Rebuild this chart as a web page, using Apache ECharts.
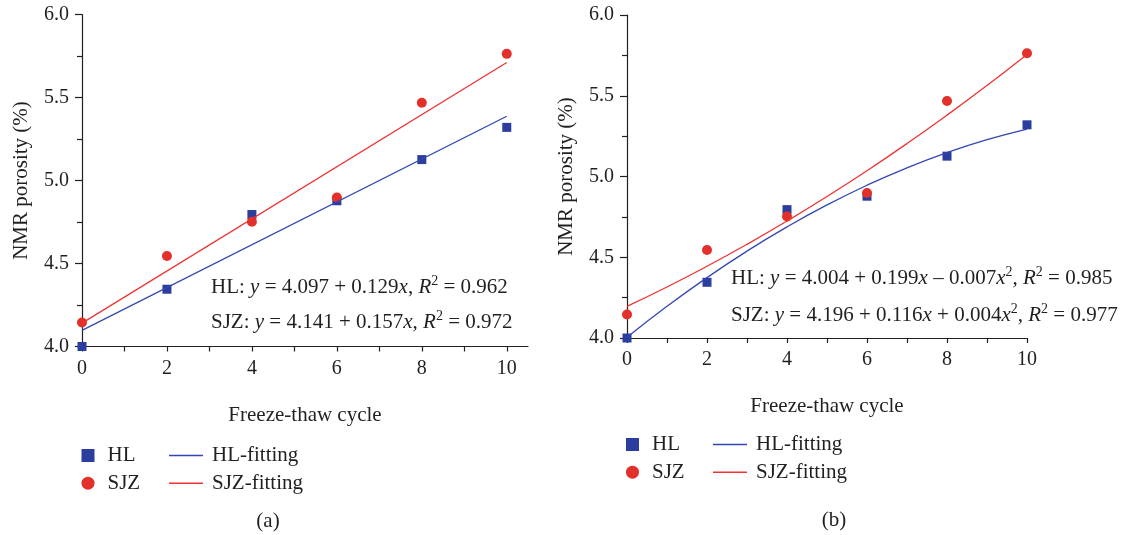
<!DOCTYPE html>
<html>
<head>
<meta charset="utf-8">
<script src="https://cdn.jsdelivr.net/npm/echarts@6/dist/echarts.min.js"></script>
<style>
html,body{margin:0;padding:0;background:#fff;}
#chart{width:1122px;height:535px;}
</style>
</head>
<body>
<div id="chart"></div>
<script>
// ---- data ----
const xCycles = [0, 2, 4, 6, 8, 10];
const hlPorosity = [4.000, 4.345, 4.795, 4.878, 5.126, 5.320];
const sjzPorosity = [4.145, 4.545, 4.752, 4.898, 5.468, 5.763];

// linear fitting lines (panel a), endpoints
const linFitX = [0, 10];
const hlLinFit = [4.097, 5.387];
const sjzLinFit = [4.141, 5.711];

// quadratic fitting curves (panel b)
const quadFitX = [0, 1, 2, 3, 4, 5, 6, 7, 8, 9, 10];
const hlQuadFit = [4.004, 4.196, 4.374, 4.538, 4.688, 4.824, 4.946, 5.054, 5.148, 5.228, 5.294];
const sjzQuadFit = [4.196, 4.316, 4.444, 4.580, 4.724, 4.876, 5.036, 5.204, 5.380, 5.564, 5.756];

const xTickValues = [0, 2, 4, 6, 8, 10];
const xAllTicks = [0, 1, 2, 3, 4, 5, 6, 7, 8, 9, 10];
const xAxisName = 'Freeze-thaw cycle';
const yAxisName = 'NMR porosity (%)';
const panelLabels = ['(a)', '(b)'];
// text pieces: {i|...} italic, {s|...} superscript
const eqA = [
  '{n|HL: }{i|y}{n| = 4.097 + 0.129}{i|x}{n|, }{i|R}{s|2}{n| = 0.962}',
  '{n|SJZ: }{i|y}{n| = 4.141 + 0.157}{i|x}{n|, }{i|R}{s|2}{n| = 0.972}'
];
const eqB = [
  '{n|HL: }{i|y}{n| = 4.004 + 0.199}{i|x}{n| \u2013 0.007}{i|x}{s|2}{n|, }{i|R}{s|2}{n| = 0.985}',
  '{n|SJZ: }{i|y}{n| = 4.196 + 0.116}{i|x}{n| + 0.004}{i|x}{s|2}{n|, }{i|R}{s|2}{n| = 0.977}'
];

// ---- styling ----
const FONT = 'Liberation Serif';
const TXT = '#231f20';
const BLUE = '#2b3e9e';
const RED = '#e3302a';
const BLUE_LINE = '#3346b3';
const RED_LINE = '#ee3333';

const pairs = (xs, ys) => xs.map((x, i) => [x, ys[i]]);

function makeX(idx, max) {
  return {
    type: 'value', gridIndex: idx, min: 0, max: max, interval: 2,
    name: xAxisName, nameLocation: 'middle', nameGap: 58,
    nameTextStyle: {fontFamily: FONT, fontSize: 21, color: TXT},
    axisLine: {show: true, onZero: false, lineStyle: {color: TXT, width: 1.2}},
    axisTick: {show: true, length: 5, customValues: xAllTicks, lineStyle: {color: TXT, width: 1.2}},
    axisLabel: {customValues: xTickValues, margin: 12, fontFamily: FONT, fontSize: 20, color: TXT},
    splitLine: {show: false}
  };
}
function makeY(idx) {
  return {
    type: 'value', gridIndex: idx, min: 4, max: 6, interval: 0.5,
    name: yAxisName, nameLocation: 'middle', nameRotate: 90, nameGap: 50,
    nameTextStyle: {fontFamily: FONT, fontSize: 21, color: TXT},
    axisLine: {show: true, lineStyle: {color: TXT, width: 1.2}},
    axisTick: {show: true, length: 7, lineStyle: {color: TXT, width: 1.2}},
    minorTick: {show: true, splitNumber: 2, length: 5, lineStyle: {color: TXT, width: 1.2}},
    axisLabel: {margin: 13, fontFamily: FONT, fontSize: 20, color: TXT,
      formatter: v => v.toFixed(1)},
    splitLine: {show: false}, minorSplitLine: {show: false}
  };
}
function scatter(name, idx, data, symbol, size, color) {
  return {name, type: 'scatter', xAxisIndex: idx, yAxisIndex: idx, data,
    symbol, symbolSize: size, itemStyle: {color, opacity: 1}, z: 3};
}
function fitLine(name, idx, data, color, smooth) {
  return {name, type: 'line', xAxisIndex: idx, yAxisIndex: idx, data,
    showSymbol: false, symbol: 'none', smooth: smooth, color: color,
    lineStyle: {color, width: 1.3}, itemStyle: {color}, z: 4};
}
function eqText(text, x, y) {
  return {
    type: 'text', x, y,
    style: {
      text, align: 'left', verticalAlign: 'middle',
      rich: {
        n: {fontFamily: FONT, fontSize: 21, lineHeight: 26, fill: TXT, color: TXT},
        i: {fontFamily: FONT, fontSize: 21, lineHeight: 26, fontStyle: 'italic', fill: TXT, color: TXT},
        s: {fontFamily: FONT, fontSize: 14, lineHeight: 14, verticalAlign: 'top', fill: TXT, color: TXT}
      }
    }
  };
}
function scatterLegend(left, top) {
  return {
    show: true, orient: 'vertical', left, top, selectedMode: false,
    data: ['HL', 'SJZ'], itemWidth: 13, itemHeight: 13, itemGap: 6.7,
    itemStyle: {opacity: 1},
    textStyle: {fontFamily: FONT, fontSize: 21, color: TXT, lineHeight: 20, padding: [0, 0, 0, 8]},
    padding: 0
  };
}
function fitLegend(left, top) {
  return {
    show: true, orient: 'vertical', left, top, selectedMode: false,
    data: [{name: 'HL-fitting', icon: 'rect'}, {name: 'SJZ-fitting', icon: 'rect'}],
    itemWidth: 34, itemHeight: 1.5, itemGap: 6.7,
    textStyle: {fontFamily: FONT, fontSize: 21, color: TXT, lineHeight: 20, padding: [0, 0, 0, 4]},
    padding: 0
  };
}

const option = {
  backgroundColor: '#fff',
  animation: false,
  grid: [
    {left: 82, top: 14.5, width: 446, height: 332},
    {left: 627, top: 15, width: 400, height: 323}
  ],
  xAxis: [makeX(0, 10.5), makeX(1, 10)],
  yAxis: [makeY(0), makeY(1)],
  legend: [
    scatterLegend(81.5, 445), fitLegend(169, 445),
    scatterLegend(626, 434), fitLegend(713, 434)
  ],
  series: [
    fitLine('HL-fitting', 0, pairs(linFitX, hlLinFit), BLUE_LINE, false),
    fitLine('SJZ-fitting', 0, pairs(linFitX, sjzLinFit), RED_LINE, false),
    scatter('HL', 0, pairs(xCycles, hlPorosity), 'rect', 9, BLUE),
    scatter('SJZ', 0, pairs(xCycles, sjzPorosity), 'circle', 10, RED),
    fitLine('HL-fitting', 1, pairs(quadFitX, hlQuadFit), BLUE_LINE, true),
    fitLine('SJZ-fitting', 1, pairs(quadFitX, sjzQuadFit), RED_LINE, true),
    scatter('HL', 1, pairs(xCycles, hlPorosity), 'rect', 9, BLUE),
    scatter('SJZ', 1, pairs(xCycles, sjzPorosity), 'circle', 10, RED)
  ],
  graphic: [
    eqText(eqA[0], 211, 287),
    eqText(eqA[1], 211, 322),
    eqText(eqB[0], 731, 278),
    eqText(eqB[1], 731, 315),
    {type: 'text', x: 268, y: 521, style: {text: panelLabels[0], align: 'center', verticalAlign: 'middle',
      font: '21px "' + FONT + '"', fill: TXT}},
    {type: 'text', x: 834, y: 520, style: {text: panelLabels[1], align: 'center', verticalAlign: 'middle',
      font: '21px "' + FONT + '"', fill: TXT}}
  ]
};

const chart = echarts.init(document.getElementById('chart'), null, {renderer: 'canvas'});
chart.setOption(option);
</script>
</body>
</html>
